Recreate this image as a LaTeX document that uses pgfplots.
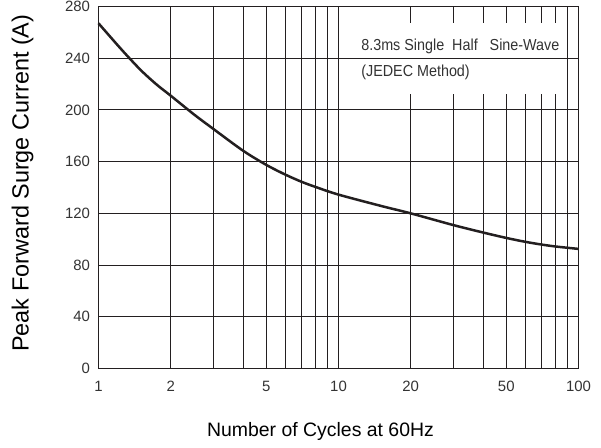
\documentclass[border=0pt]{standalone}
\usepackage{fontspec}
\setmainfont{Liberation Sans}
\usepackage{pgfplots}
\pgfplotsset{compat=1.18}
\definecolor{gridc}{HTML}{231F20}
\definecolor{txtc}{HTML}{333333}

\begin{document}
\begin{tikzpicture}
\path[use as bounding box] (-98bp,-79bp) rectangle (503bp,369bp);
\begin{axis}[
  at={(0.5bp,0.5bp)}, anchor=south west,
  scale only axis, width=480bp, height=362bp,
  xmode=log, xmin=1, xmax=100, ymin=0, ymax=280,
  xtick={1,2,3,4,5,6,7,8,9,10,20,30,40,50,60,70,80,90,100},
  xticklabels={1,2,{},{},5,{},{},{},{},10,20,{},{},50,{},{},{},{},100},
  ytick={0,40,80,120,160,200,240,280},
  minor xtick={},
  grid=major,
  major grid style={gridc, line width=0.95bp},
  axis line style={gridc, line width=0.95bp},
  major tick length=0pt, minor tick length=0pt,
  tick label style={font=\fontsize{15}{18}\selectfont, text=txtc},
  yticklabel style={/pgf/number format/assume math mode=true, xshift=-5bp},
  xticklabel style={yshift=-9bp},
  xlabel={Number of Cycles at 60Hz},
  ylabel={Peak Forward Surge Current (A)},
  xlabel style={font=\fontsize{19.5}{22}\selectfont, at={(axis description cs:0.4625,-0.174)}, anchor=center},
  ylabel style={font=\fontsize{23.5}{26}\selectfont, at={(axis description cs:-0.158,0.512)}, anchor=center},
  clip=false,
]
\addplot[gridc, line width=2.5bp, smooth, tension=0.5, no markers] coordinates {
(1,267) (1.25,246.5) (1.5,230.8) (1.75,219.5) (2,211) (2.5,196.5) (3,185.5)
(4,168.5) (5,157.5) (6,150) (7,144.5) (8,140.5) (10,134.5) (15,125.8)
(20,120) (30,111) (40,105.2) (50,101) (60,98) (70,95.9) (80,94.4) (100,92.5)
};
\fill[white] (axis cs:11.2,212) rectangle (axis cs:85.8,267);
\draw[gridc, line width=0.95bp] (axis cs:11.2,240) -- (axis cs:85.8,240);
\node[anchor=base west, font=\fontsize{16}{19}\selectfont, xscale=0.9, text=txtc, inner sep=0pt]
  at (axis cs:12.43,246.2) {8.3ms Single\ \ Half\ \ \ Sine-Wave};
\node[anchor=base west, font=\fontsize{16}{19}\selectfont, xscale=0.9, text=txtc, inner sep=0pt]
  at (axis cs:12.43,225.6) {(JEDEC Method)};
\end{axis}
\end{tikzpicture}
\end{document}
